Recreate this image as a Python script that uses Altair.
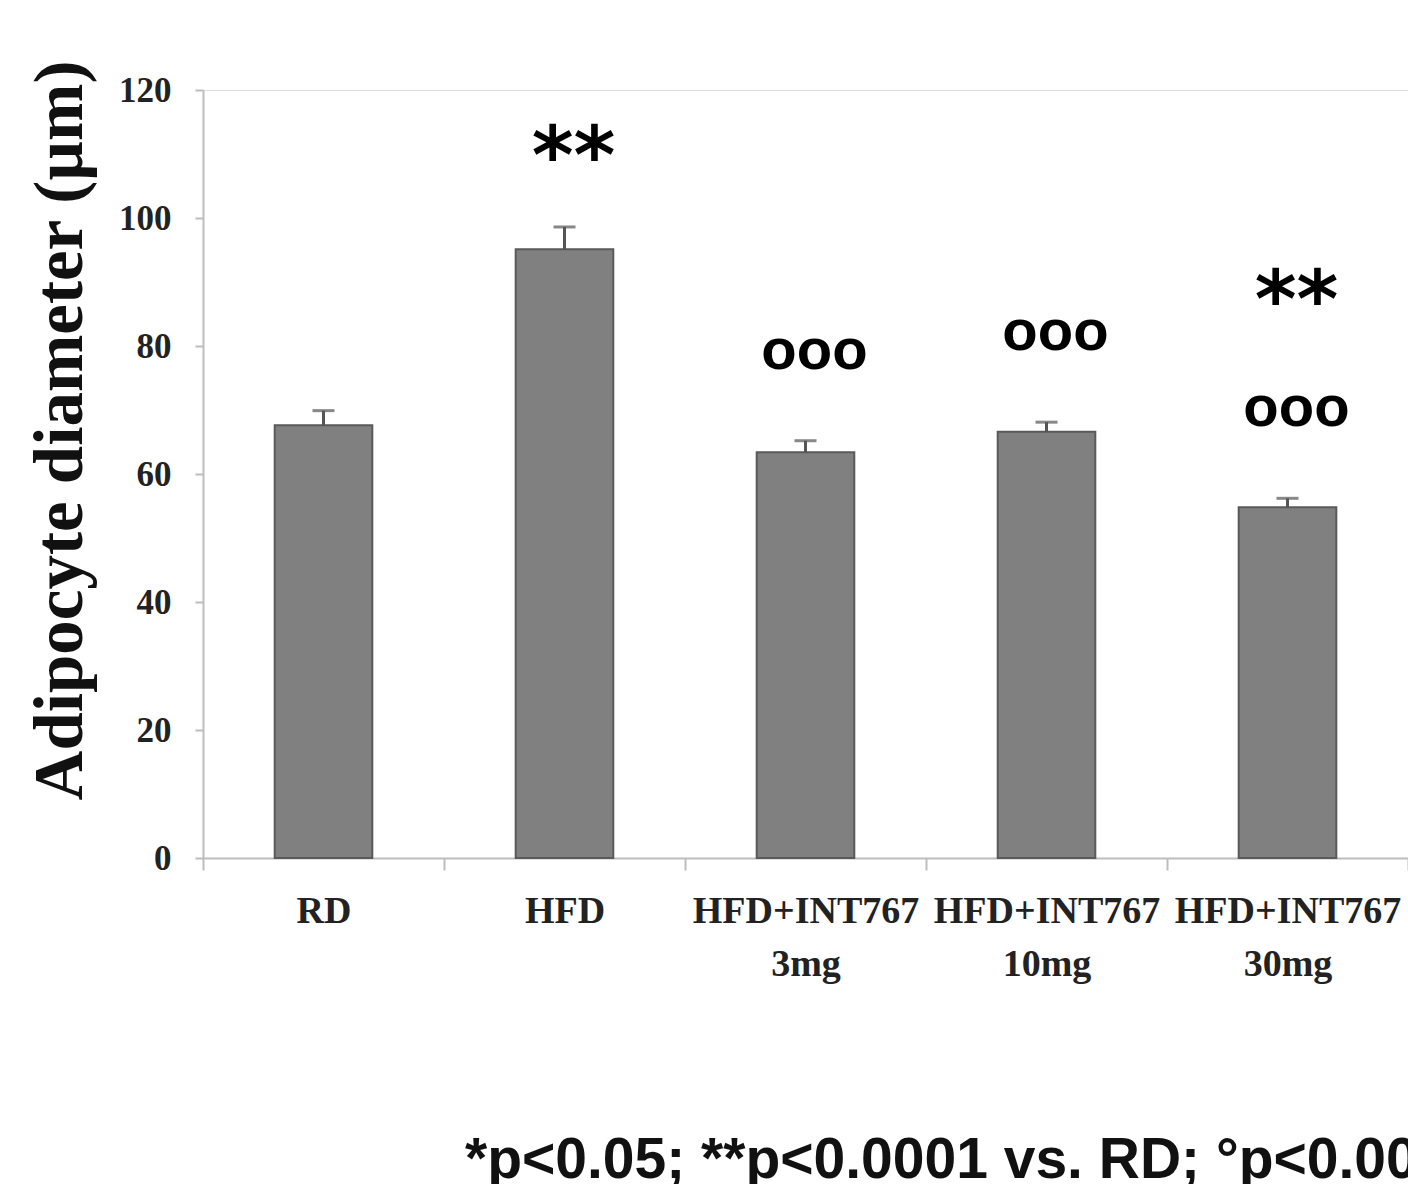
import altair as alt
import pandas as pd

# ---- data ----
groups = ["RD", "HFD", "HFD+INT767 3mg", "HFD+INT767 10mg", "HFD+INT767 30mg"]
means = [67.6, 95.1, 63.4, 66.6, 54.8]
sems = [2.3, 3.5, 1.8, 1.5, 1.4]
vs_rd = ["", "**", "", "", "**"]
vs_hfd = ["", "", "ooo", "ooo", "ooo"]
y_ticks = [0, 20, 40, 60, 80, 100, 120]
y_title = "Adipocyte diameter (µm)"
footnote = "*p<0.05; **p<0.0001 vs. RD; °p<0.0001 vs. HFD"

df = pd.DataFrame({
    "group": groups,
    "mean": means,
    "sem": sems,
    "vs_rd": vs_rd,
    "vs_hfd": vs_hfd,
})

base = alt.Chart(df).transform_calculate(top="datum.mean + datum.sem")

x_enc = alt.X(
    "group:N",
    sort=groups,
    scale=alt.Scale(paddingInner=0, paddingOuter=0),
    axis=alt.Axis(
        title=None,
        labelAngle=0,
        labelExpr="split(datum.label, ' ')",
        labelFont="Liberation Serif",
        labelFontWeight="bold",
        labelFontSize=38,
        labelLineHeight=53,
        labelColor="#222222",
        labelBaseline="top",
        labelPadding=22,
        labelLimit=400,
        tickBand="extent",
        tickSize=12,
        tickColor="#bdbdbd",
        tickWidth=2,
        domainColor="#bdbdbd",
        domainWidth=2,
    ),
)

y_enc = alt.Y(
    "mean:Q",
    scale=alt.Scale(domain=[0, 120], nice=False),
    axis=alt.Axis(
        title=y_title,
        values=y_ticks,
        grid=False,
        labelFont="Liberation Serif",
        labelFontWeight="bold",
        labelFontSize=35,
        labelColor="#222222",
        labelPadding=24,
        tickSize=8,
        tickColor="#bdbdbd",
        tickWidth=2,
        domainColor="#bdbdbd",
        domainWidth=2,
        titleFont="Liberation Serif",
        titleFontWeight="bold",
        titleFontSize=69,
        titleColor="#111111",
        titleAngle=270,
        titleAlign="center",
        titleBaseline="middle",
        titleX=-143,
        titleY=340,
    ),
)

bars = base.mark_bar(
    width=alt.RelativeBandSize(0.405),
    color="#808080",
    stroke="#5a5a5a",
    strokeWidth=2,
).encode(x=x_enc, y=y_enc)

err_line = base.mark_rule(color="#555555", strokeWidth=3).encode(
    x=alt.X("group:N", sort=groups),
    y="mean:Q",
    y2="top:Q",
)

err_cap = base.mark_tick(color="#555555", thickness=3, size=22).encode(
    x=alt.X("group:N", sort=groups),
    y="top:Q",
)

circles = base.transform_filter("datum.vs_hfd != ''").mark_text(
    font="Liberation Sans", fontWeight="bold", fontSize=58,
    baseline="middle", align="center", color="#000000", dy=-89, dx=9,
).encode(x=alt.X("group:N", sort=groups), y="top:Q", text="vs_hfd:N")

stars_alone = base.transform_filter("datum.vs_rd != '' && datum.vs_hfd == ''").mark_text(
    font="DejaVu Sans", fontWeight="bold", fontSize=80,
    baseline="middle", align="center", color="#000000", dy=-68, dx=9,
).encode(x=alt.X("group:N", sort=groups), y="top:Q", text="vs_rd:N")

stars_over = base.transform_filter("datum.vs_rd != '' && datum.vs_hfd != ''").mark_text(
    font="DejaVu Sans", fontWeight="bold", fontSize=80,
    baseline="middle", align="center", color="#000000", dy=-195, dx=9,
).encode(x=alt.X("group:N", sort=groups), y="top:Q", text="vs_rd:N")

note = alt.Chart(pd.DataFrame({"t": [footnote]})).mark_text(
    font="Liberation Sans", fontWeight="bold", fontSize=57,
    align="left", baseline="alphabetic", color="#111111",
).encode(x=alt.value(262), y=alt.value(1088), text="t:N")

chart = alt.layer(bars, err_line, err_cap, circles, stars_alone, stars_over, note).properties(
    width=1205,
    height=768,
    autosize=alt.AutoSizeParams(type="none"),
    padding={"left": 203, "top": 90, "right": 0, "bottom": 326},
).configure_view(stroke=None).configure(background="white")

chart.save("out.html", embed_options={"renderer": "svg", "actions": False})
